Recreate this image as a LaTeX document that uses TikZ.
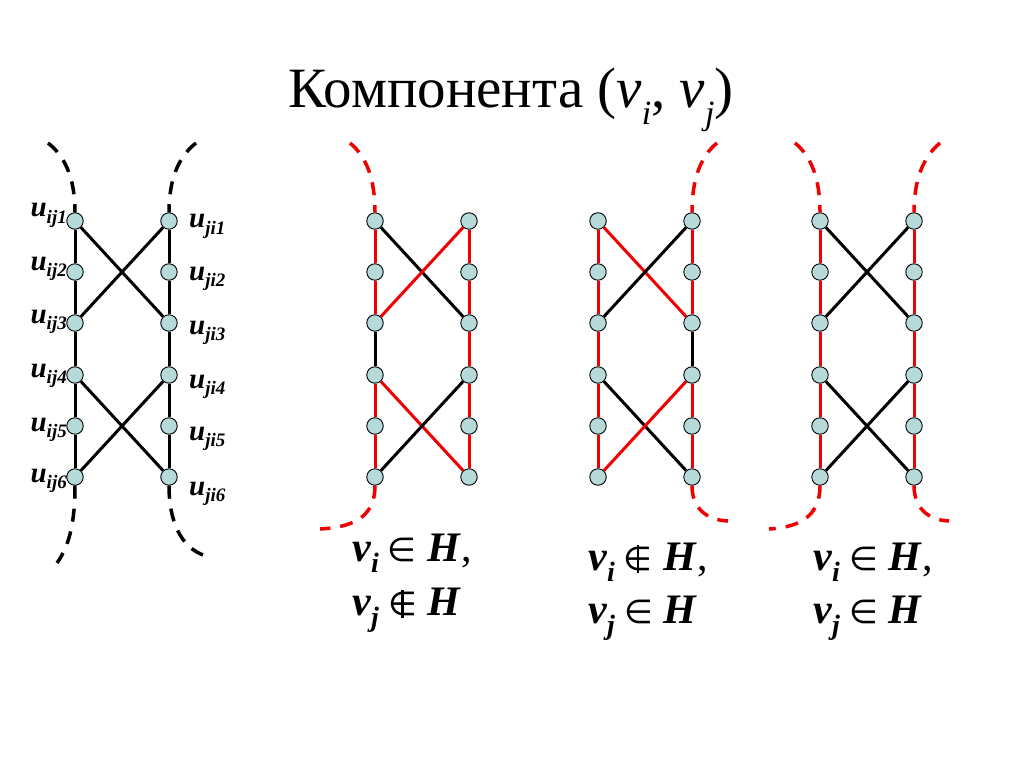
\documentclass[tikz,border=0pt]{standalone}
\usepackage{fontspec}
\setmainfont{Liberation Serif}
\newfontfamily\symfont{DejaVu Sans}
\definecolor{nodefill}{RGB}{182,218,218}
\definecolor{myred}{RGB}{240,0,0}
\newcommand\lsub[3]{\raisebox{-#1}{\fontsize{#2}{#2}\selectfont #3}}
\newcommand\inset{{\symfont\fontsize{33}{35}\selectfont ∈}}
\newcommand\notinset{{\symfont\fontsize{33}{35}\selectfont\ooalign{∈\cr\hidewidth\rule[-3pt]{2.2pt}{28pt}\hidewidth\cr}}}
\newcommand\mkcols[3]{%
  \foreach \k/\yy in {1/221,2/272,3/323,4/375,5/426,6/477}{%
    \node[vert] (#1L\k) at (#2,\yy) {};
    \node[vert] (#1R\k) at (#3,\yy) {};
  }}
\tikzset{
  vert/.style={circle, draw=black, line width=0.9pt, fill=nodefill, minimum size=16.5pt, inner sep=0pt},
  ek/.style={draw=black, line width=3pt},
  er/.style={draw=myred, line width=3pt},
  dk/.style={draw=black, line width=3.5pt, dash pattern=on 13pt off 10pt},
  dr/.style={draw=myred, line width=3.5pt, dash pattern=on 13pt off 10pt},
  lbl/.style={inner sep=0pt, font=\fontsize{29}{31}\selectfont\bfseries\itshape},
  cond/.style={inner sep=0pt, anchor=base west, font=\fontsize{42}{44}\selectfont},
}
\begin{document}
\begin{tikzpicture}[x=1pt,y=-1pt]
\useasboundingbox (0,0) rectangle (1024,767);
\fill[white] (0,0) rectangle (1024,767);

% title
\node[inner sep=0pt, anchor=base, font=\fontsize{57}{60}\selectfont] (title) at (511,108)
  {Компонента (\textit{v}\lsub{17pt}{34pt}{\textit{i}}, \textit{v}\lsub{17pt}{34pt}{\textit{j}})};

% nodes
\mkcols{a}{75}{169}
\mkcols{b}{375}{469}
\mkcols{c}{598}{692}
\mkcols{d}{820}{914}

% ---- graph 1 (all black)
\foreach \s in {a}{
  \draw[ek] (\s L1) -- (\s L2); \draw[ek] (\s L2) -- (\s L3); \draw[ek] (\s L3) -- (\s L4);
  \draw[ek] (\s L4) -- (\s L5); \draw[ek] (\s L5) -- (\s L6);
  \draw[ek] (\s R1) -- (\s R2); \draw[ek] (\s R2) -- (\s R3); \draw[ek] (\s R3) -- (\s R4);
  \draw[ek] (\s R4) -- (\s R5); \draw[ek] (\s R5) -- (\s R6);
}
\draw[ek] (aL1) -- (aR3); \draw[ek] (aL3) -- (aR1);
\draw[ek] (aL4) -- (aR6); \draw[ek] (aL6) -- (aR4);

% ---- graph 2
\draw[er] (bL1) -- (bL2); \draw[er] (bL2) -- (bL3); \draw[ek] (bL3) -- (bL4);
\draw[er] (bL4) -- (bL5); \draw[er] (bL5) -- (bL6);
\draw[er] (bR1) -- (bR2); \draw[er] (bR2) -- (bR3); \draw[er] (bR3) -- (bR4);
\draw[er] (bR4) -- (bR5); \draw[er] (bR5) -- (bR6);
\draw[ek] (bL1) -- (bR3); \draw[er] (bL3) -- (bR1);
\draw[er] (bL4) -- (bR6); \draw[ek] (bL6) -- (bR4);

% ---- graph 3
\draw[er] (cL1) -- (cL2); \draw[er] (cL2) -- (cL3); \draw[er] (cL3) -- (cL4);
\draw[er] (cL4) -- (cL5); \draw[er] (cL5) -- (cL6);
\draw[er] (cR1) -- (cR2); \draw[er] (cR2) -- (cR3); \draw[ek] (cR3) -- (cR4);
\draw[er] (cR4) -- (cR5); \draw[er] (cR5) -- (cR6);
\draw[er] (cL1) -- (cR3); \draw[ek] (cL3) -- (cR1);
\draw[ek] (cL4) -- (cR6); \draw[er] (cL6) -- (cR4);

% ---- graph 4
\draw[er] (dL1) -- (dL2); \draw[er] (dL2) -- (dL3); \draw[er] (dL3) -- (dL4);
\draw[er] (dL4) -- (dL5); \draw[er] (dL5) -- (dL6);
\draw[er] (dR1) -- (dR2); \draw[er] (dR2) -- (dR3); \draw[er] (dR3) -- (dR4);
\draw[er] (dR4) -- (dR5); \draw[er] (dR5) -- (dR6);
\draw[ek] (dL1) -- (dR3); \draw[ek] (dL3) -- (dR1);
\draw[ek] (dL4) -- (dR6); \draw[ek] (dL6) -- (dR4);

% ---- dashed curves
\coordinate (aTL) at (48,143);  \coordinate (aBL) at (57,563);
\coordinate (aTR) at (196,143); \coordinate (aBR) at (206,556);
\draw[dk] (aTL) .. controls (66,157) and (75,180) .. (aL1.north);
\draw[dk] (aL6.south) .. controls (75,520) and (70,545) .. (aBL);
\draw[dk] (aTR) .. controls (178,157) and (169,180) .. (aR1.north);
\draw[dk] (aR6.south) .. controls (169,520) and (180,548) .. (aBR);

\coordinate (bTL) at (350,143); \coordinate (bBL) at (320,529);
\draw[dr] (bTL) .. controls (367,157) and (375,180) .. (bL1.north);
\draw[dr] (bL6.south) .. controls (375,512) and (360,527) .. (bBL);

\coordinate (cTR) at (717,143); \coordinate (cBR) at (728,521);
\draw[dr] (cTR) .. controls (700,157) and (692,180) .. (cR1.north);
\draw[dr] (cR6.south) .. controls (692,507) and (705,520) .. (cBR);

\coordinate (dTL) at (795,143); \coordinate (dBL) at (769,529);
\coordinate (dTR) at (940,143); \coordinate (dBR) at (949,521);
\draw[dr] (dTL) .. controls (812,157) and (820,180) .. (dL1.north);
\draw[dr] (dL6.south) .. controls (820,512) and (805,527) .. (dBL);
\draw[dr] (dTR) .. controls (923,157) and (914,180) .. (dR1.north);
\draw[dr] (dR6.south) .. controls (914,507) and (927,520) .. (dBR);

% ---- labels of graph 1
\foreach \k/\yl/\yr in {1/217/228,2/270/280,3/323/334,4/377/388,5/431/440,6/482/495}{
  \node[lbl, anchor=base east] (lu\k) at (67,\yl) {u\lsub{6pt}{19pt}{ij\k}};
  \node[lbl, anchor=base west] (ru\k) at (189,\yr) {u\lsub{6pt}{19pt}{ji\k}};
}

% ---- conditions
\node[cond] (c1a) at (352,561) {\textbf{\textit{v}}\lsub{11pt}{28pt}{\textbf{\textit{i}}}\hspace{9pt}\inset\hspace{11pt}\textbf{\textit{H}},};
\node[cond] (c1b) at (352,615) {\textbf{\textit{v}}\lsub{11pt}{28pt}{\textbf{\textit{j}}}\hspace{9pt}\notinset\hspace{11pt}\textbf{\textit{H}}};
\node[cond] (c2a) at (588,570) {\textbf{\textit{v}}\lsub{11pt}{28pt}{\textbf{\textit{i}}}\hspace{9pt}\notinset\hspace{11pt}\textbf{\textit{H}},};
\node[cond] (c2b) at (588,623) {\textbf{\textit{v}}\lsub{11pt}{28pt}{\textbf{\textit{j}}}\hspace{9pt}\inset\hspace{11pt}\textbf{\textit{H}}};
\node[cond] (c3a) at (813,570) {\textbf{\textit{v}}\lsub{11pt}{28pt}{\textbf{\textit{i}}}\hspace{9pt}\inset\hspace{11pt}\textbf{\textit{H}},};
\node[cond] (c3b) at (813,623) {\textbf{\textit{v}}\lsub{11pt}{28pt}{\textbf{\textit{j}}}\hspace{9pt}\inset\hspace{11pt}\textbf{\textit{H}}};
\end{tikzpicture}
\end{document}
